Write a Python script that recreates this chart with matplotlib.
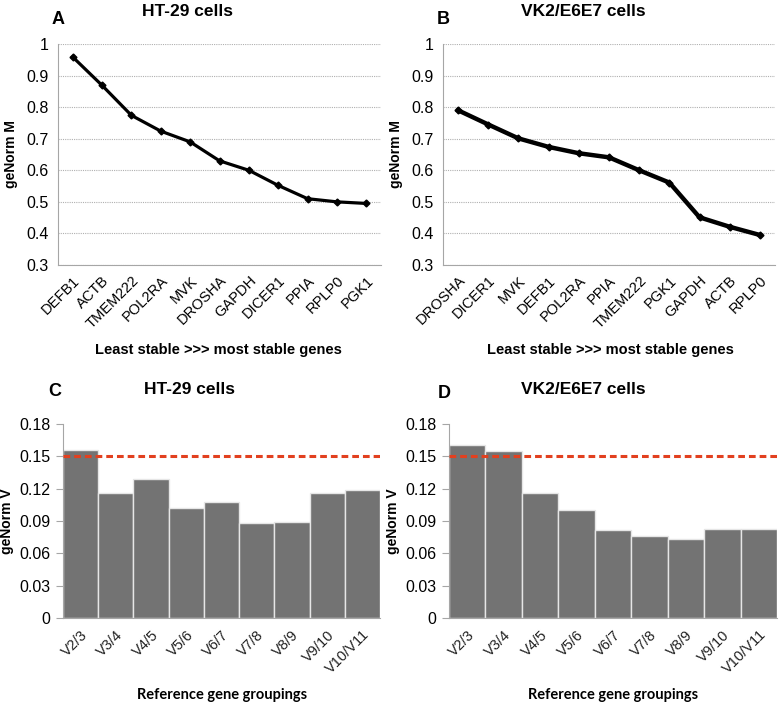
import matplotlib
matplotlib.use("Agg")
import matplotlib.pyplot as plt
import numpy as np

plt.rcParams['font.family'] = ['Liberation Sans', 'DejaVu Sans']

genes_a = ["DEFB1", "ACTB", "TMEM222", "POL2RA", "MVK", "DROSHA", "GAPDH", "DICER1", "PPIA", "RPLP0", "PGK1"]
m_a = [0.959, 0.869, 0.774, 0.724, 0.690, 0.630, 0.600, 0.552, 0.510, 0.500, 0.495]

genes_b = ["DROSHA", "DICER1", "MVK", "DEFB1", "POL2RA", "PPIA", "TMEM222", "PGK1", "GAPDH", "ACTB", "RPLP0"]
m_b = [0.790, 0.745, 0.701, 0.674, 0.654, 0.641, 0.600, 0.561, 0.451, 0.421, 0.395]

groups = ["V2/3", "V3/4", "V4/5", "V5/6", "V6/7", "V7/8", "V8/9", "V9/10", "V10/V11"]
v_c = [0.156, 0.1156, 0.129, 0.1016, 0.1078, 0.0877, 0.0892, 0.1156, 0.1183]
v_d = [0.1608, 0.1549, 0.1156, 0.0998, 0.0812, 0.0765, 0.0734, 0.0824, 0.0824]
threshold = 0.15

W, H = 782, 708
fig = plt.figure(figsize=(W / 100, H / 100), dpi=100)

def ax_px(l, t, r, b):
    return fig.add_axes([l / W, 1 - b / H, (r - l) / W, (b - t) / H])

def ftext(x, y, s, **kw):
    fig.text(x / W, 1 - y / H, s, **kw)

spine_col = "#a6a6a6"

def line_panel(ax, genes, vals, lw):
    x = np.arange(len(genes))
    ax.plot(x, vals, color="black", lw=lw, marker="D", ms=3.5, zorder=3)
    ax.set_xlim(-0.5, len(genes) - 0.5)
    ax.set_ylim(0.3, 1.0)
    ax.set_yticks([0.3, 0.4, 0.5, 0.6, 0.7, 0.8, 0.9, 1.0])
    ax.set_yticklabels(["0.3", "0.4", "0.5", "0.6", "0.7", "0.8", "0.9", "1"], fontsize=11.5)
    ax.set_xticks(x)
    ax.set_xticklabels(genes, rotation=45, ha="right", rotation_mode="anchor", fontsize=10.5)
    ax.yaxis.grid(True, color="#b0b0b0", ls=(0, (1, 1)), lw=0.8)
    ax.set_axisbelow(True)
    for s in ["top", "right"]:
        ax.spines[s].set_visible(False)
    for s in ["left", "bottom"]:
        ax.spines[s].set_color(spine_col)
    ax.tick_params(axis="y", length=0, pad=7)
    ax.tick_params(axis="x", length=0, pad=6)
    ax.set_ylabel("geNorm M", fontsize=10, fontweight="bold", labelpad=6)

def bar_panel(ax, vals):
    x = np.arange(len(groups))
    ax.bar(x, vals, width=1.0, color="#737373", edgecolor="#e6e6e6", lw=1.0, zorder=2)
    ax.axhline(threshold, color="#e2401f", lw=2.2, ls=(0, (2.2, 1.3)), zorder=3)
    ax.set_xlim(-0.5, len(groups) - 0.5)
    ax.set_ylim(0, 0.18)
    ax.set_yticks([0, 0.03, 0.06, 0.09, 0.12, 0.15, 0.18])
    ax.set_yticklabels(["0", "0.03", "0.06", "0.09", "0.12", "0.15", "0.18"], fontsize=11.5)
    ax.set_xticks(x)
    ax.set_xticklabels(groups, rotation=45, ha="right", rotation_mode="anchor", fontsize=10.5, color="#222222")
    for s in ["top", "right"]:
        ax.spines[s].set_visible(False)
    for s in ["left", "bottom"]:
        ax.spines[s].set_color(spine_col)
    ax.tick_params(axis="y", length=5, color=spine_col, pad=4)
    ax.tick_params(axis="x", length=0, pad=7)
    ax.set_ylabel("geNorm V", fontsize=10, fontweight="bold", labelpad=4)

axA = ax_px(58, 44, 381, 265)
line_panel(axA, genes_a, m_a, 2.3)
axB = ax_px(443, 44, 775, 265)
line_panel(axB, genes_b, m_b, 3.2)
axC = ax_px(63, 424, 380, 618)
bar_panel(axC, v_c)
axD = ax_px(449, 424, 777, 618)
bar_panel(axD, v_d)

# titles and panel letters
ftext(188, 12, "HT-29 cells", fontsize=12.5, fontweight="bold", ha="center", va="center")
ftext(583, 12, "VK2/E6E7 cells", fontsize=12.5, fontweight="bold", ha="center", va="center")
ftext(190, 390, "HT-29 cells", fontsize=12.5, fontweight="bold", ha="center", va="center")
ftext(583, 390, "VK2/E6E7 cells", fontsize=12.5, fontweight="bold", ha="center", va="center")
ftext(58, 20, "A", fontsize=13, fontweight="bold", ha="center", va="center")
ftext(443, 20, "B", fontsize=13, fontweight="bold", ha="center", va="center")
ftext(55, 392, "C", fontsize=13, fontweight="bold", ha="center", va="center")
ftext(444, 393, "D", fontsize=13, fontweight="bold", ha="center", va="center")

# x-axis labels
ftext(218, 350, "Least stable >>> most stable genes", fontsize=10.5, fontweight="bold", ha="center", va="center")
ftext(610, 350, "Least stable >>> most stable genes", fontsize=10.5, fontweight="bold", ha="center", va="center")
ftext(222, 695, "Reference gene groupings", fontsize=10.5, fontweight="bold", ha="center", va="center",
      family=["Lato", "DejaVu Sans"])
ftext(613, 695, "Reference gene groupings", fontsize=10.5, fontweight="bold", ha="center", va="center",
      family=["Lato", "DejaVu Sans"])

fig.savefig("out.png", dpi=100, facecolor="white")
